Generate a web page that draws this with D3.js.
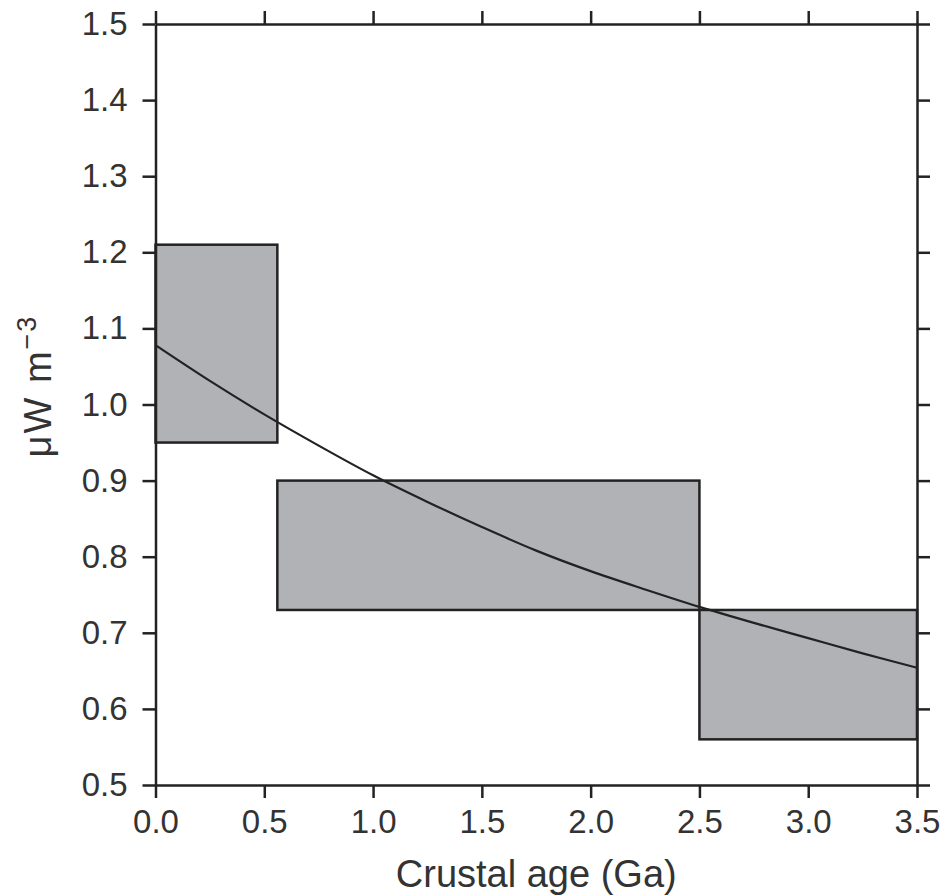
<!DOCTYPE html>
<html>
<head>
<meta charset="utf-8">
<script src="https://cdn.jsdelivr.net/npm/d3@7"></script>
<style>
  body { margin: 0; background: #fff; }
  text { font-family: "Liberation Sans", Arial, sans-serif; fill: #333; }
</style>
</head>
<body>
<div id="chart"></div>
<script>
// age bins (Ga) and heat production range (uW m-3)
var binStart = [0, 0.56, 2.5];
var binEnd = [0.56, 2.5, 3.5];
var binLow = [0.95, 0.73, 0.56];
var binHigh = [1.21, 0.90, 0.73];

// curve
var curveAge = [0, 0.25, 0.5, 0.75, 1.0, 1.25, 1.5, 1.75, 2.0, 2.25, 2.5, 2.75, 3.0, 3.25, 3.5];
var curveVal = [1.078, 1.031, 0.987, 0.946, 0.907, 0.872, 0.839, 0.808, 0.781, 0.757, 0.734, 0.713, 0.693, 0.673, 0.654];

var xTicks = [0, 0.5, 1.0, 1.5, 2.0, 2.5, 3.0, 3.5];
var yTicks = [0.5, 0.6, 0.7, 0.8, 0.9, 1.0, 1.1, 1.2, 1.3, 1.4, 1.5];

var width = 946,
    height = 896;
var margin = {left: 155.5, top: 24, right: 29, bottom: 111};
var w = width - margin.left - margin.right,
    h = height - margin.top - margin.bottom;

var svg = d3.select("#chart")
    .append("svg")
    .attr("width", width)
    .attr("height", height);

var g = svg.append("g")
    .attr("transform", "translate(" + margin.left + "," + margin.top + ")");

var x = d3.scaleLinear().domain([0, 3.5]).range([0, w]);
var y = d3.scaleLinear().domain([0.5, 1.5]).range([h, 0]);

// boxes
g.selectAll("rect.bin")
    .data(binStart)
    .enter()
    .append("rect")
    .attr("class", "bin")
    .attr("x", function (d, i) { return x(binStart[i]); })
    .attr("width", function (d, i) { return x(binEnd[i]) - x(binStart[i]); })
    .attr("y", function (d, i) { return y(binHigh[i]); })
    .attr("height", function (d, i) { return y(binLow[i]) - y(binHigh[i]); })
    .style("fill", "#b1b2b6")
    .style("stroke", "#222")
    .style("stroke-width", 2.5);

// curve
var line = d3.line()
    .x(function (d, i) { return x(curveAge[i]); })
    .y(function (d, i) { return y(curveVal[i]); })
    .curve(d3.curveCatmullRom);

g.append("path")
    .datum(curveAge)
    .attr("d", line)
    .style("fill", "none")
    .style("stroke", "#222")
    .style("stroke-width", 2.2);

// axes
var fmt = d3.format(".1f");

function styleAxis(sel) {
    sel.selectAll("path").style("stroke", "#222").style("stroke-width", 2.5);
    sel.selectAll("line").style("stroke", "#222").style("stroke-width", 2.5);
    sel.selectAll("text").style("font-size", "33px").style("fill", "#333")
        .style("font-family", "'Liberation Sans', Arial, sans-serif");
}

g.append("g")
    .attr("transform", "translate(0," + h + ")")
    .call(d3.axisBottom(x).tickValues(xTicks).tickFormat(fmt).tickSizeInner(13).tickSizeOuter(0).tickPadding(12))
    .call(styleAxis);

g.append("g")
    .call(d3.axisLeft(y).tickValues(yTicks).tickFormat(fmt).tickSizeInner(13).tickSizeOuter(0).tickPadding(15))
    .call(styleAxis);

g.append("g")
    .call(d3.axisTop(x).tickValues(xTicks).tickFormat("").tickSizeInner(13).tickSizeOuter(0))
    .call(styleAxis);

g.append("g")
    .attr("transform", "translate(" + w + ",0)")
    .call(d3.axisRight(y).tickValues(yTicks).tickFormat("").tickSizeInner(13).tickSizeOuter(0))
    .call(styleAxis);

// axis titles
svg.append("text")
    .attr("x", margin.left + w / 2)
    .attr("y", 887)
    .attr("text-anchor", "middle")
    .style("font-size", "38px")
    .text("Crustal age (Ga)");

var yt = svg.append("text")
    .attr("transform", "translate(51,386) rotate(-90)")
    .attr("text-anchor", "middle")
    .style("font-size", "38px")
    .style("letter-spacing", "2px");
yt.append("tspan").text("\u03bcW m");
yt.append("tspan").attr("dy", -15).style("font-size", "27px").text("\u22123");
</script>
</body>
</html>
